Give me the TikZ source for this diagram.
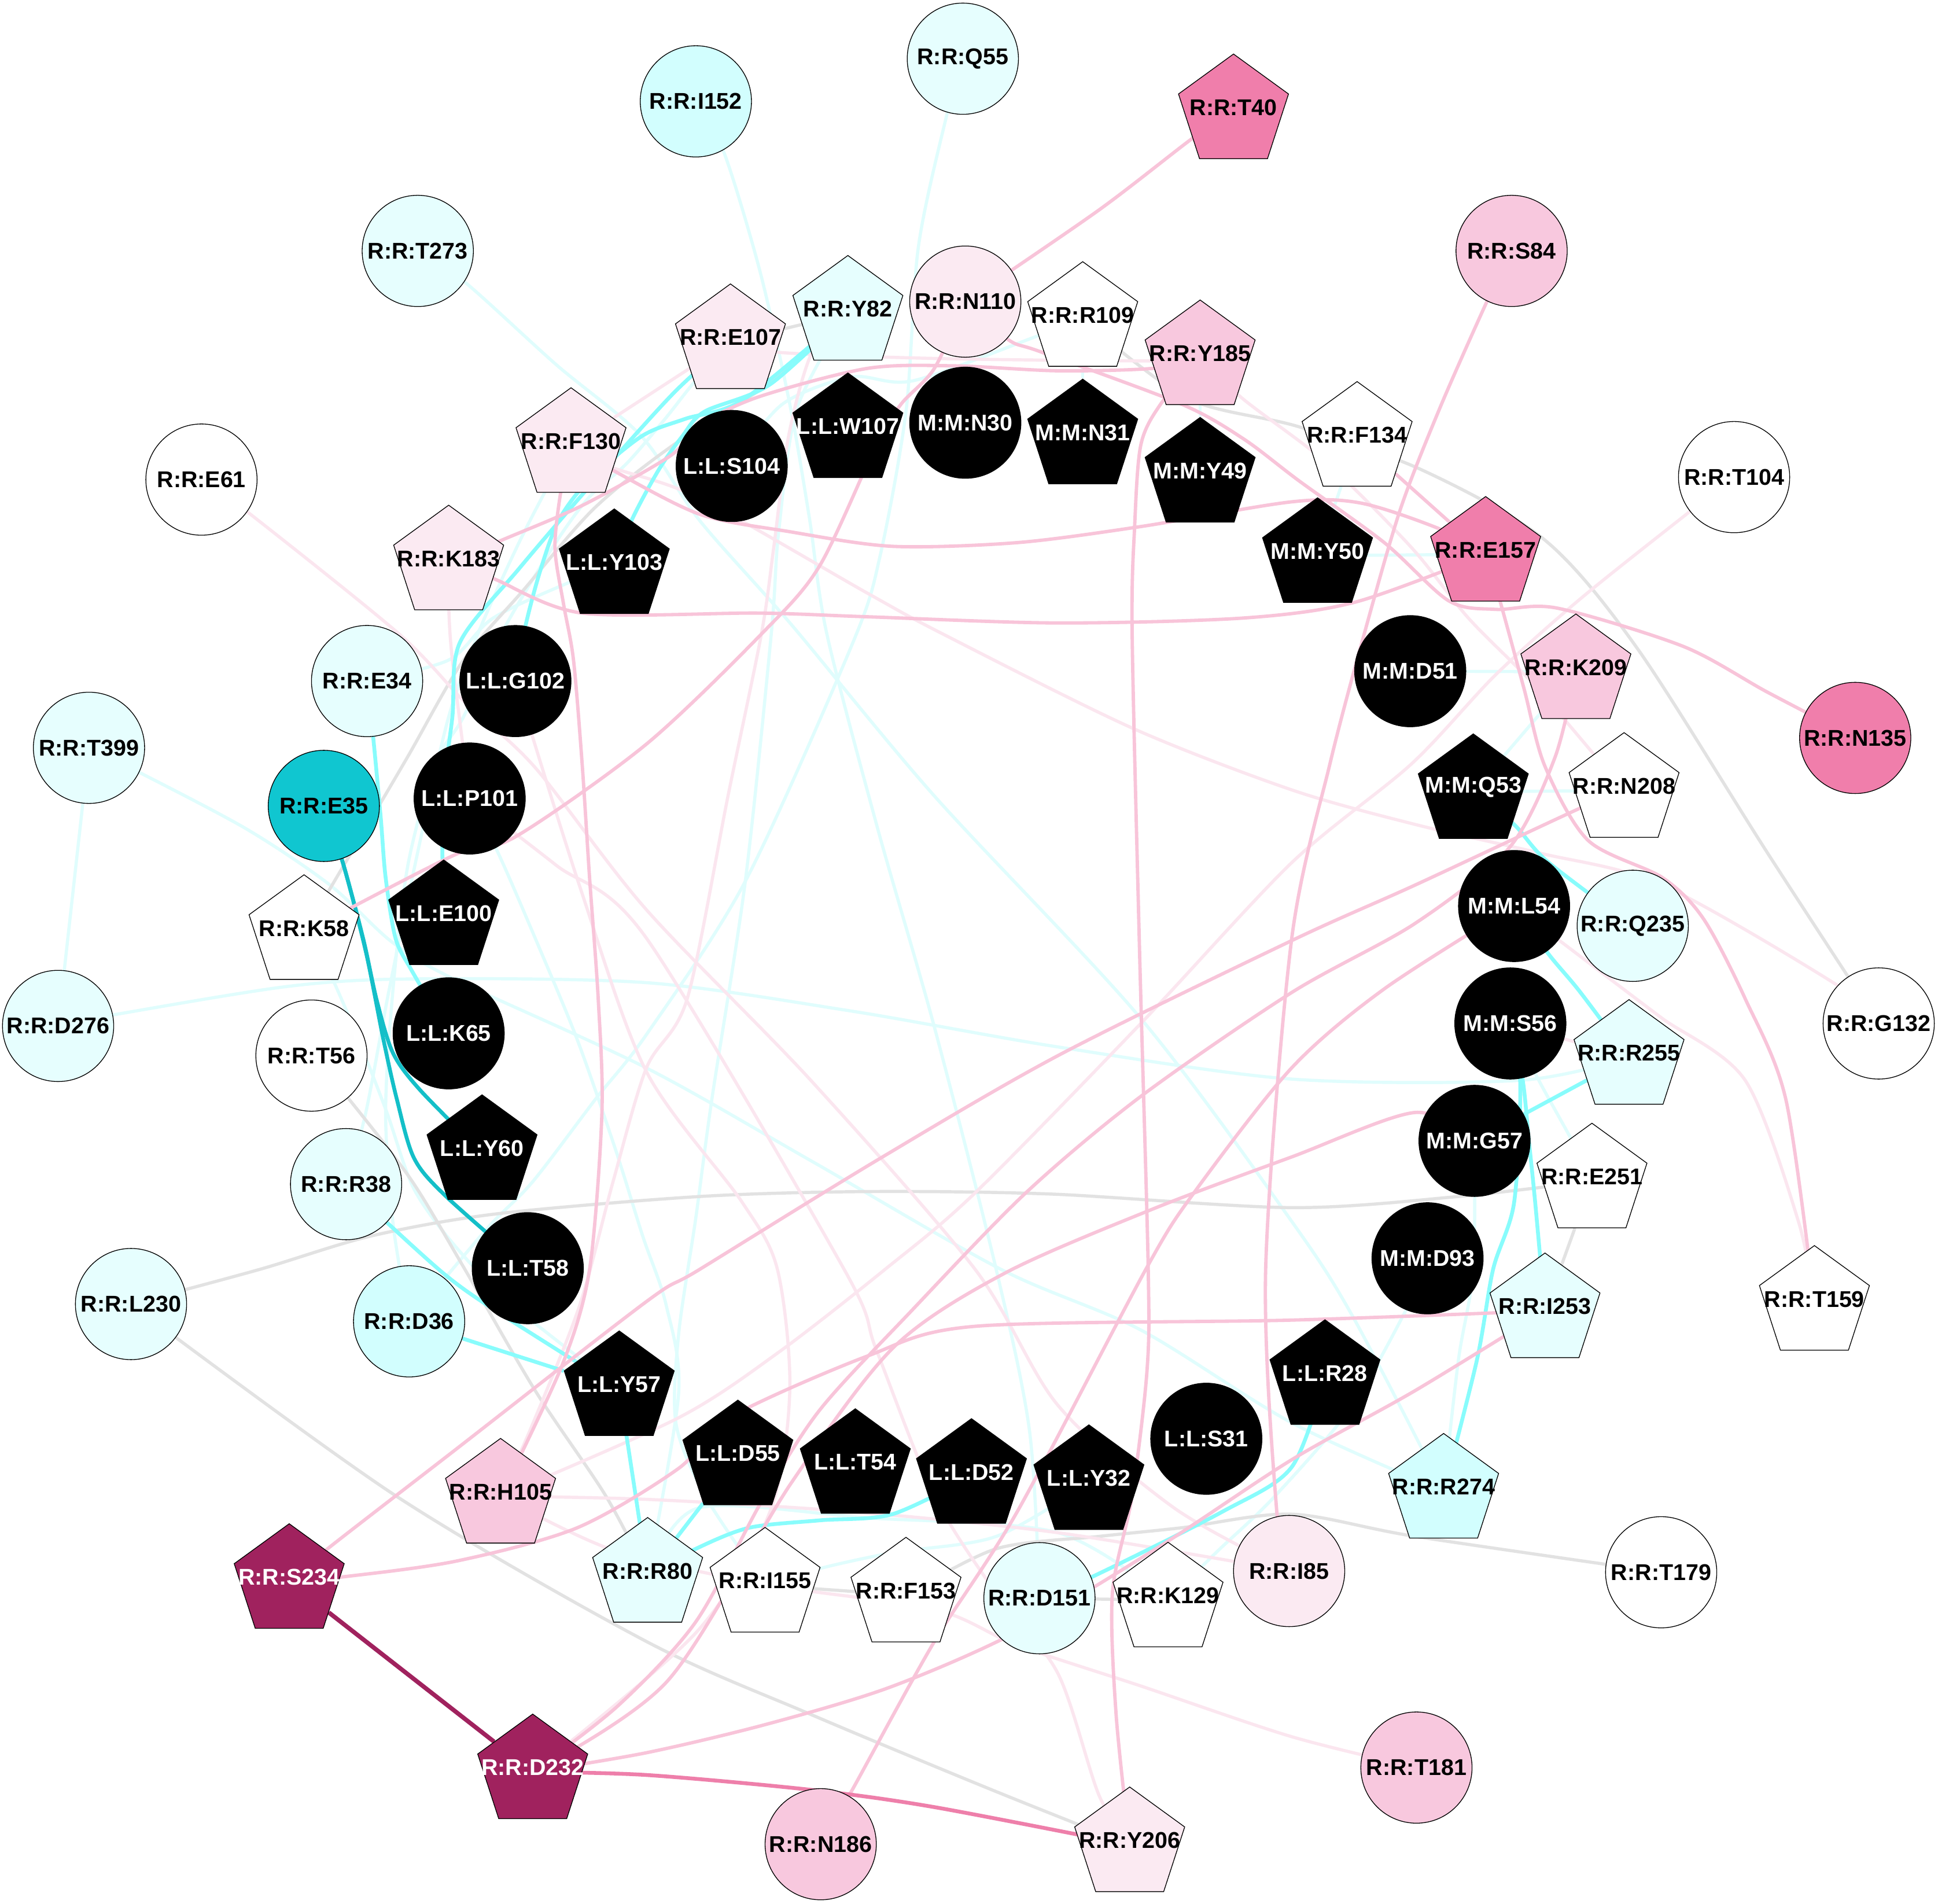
\documentclass[tikz,border=0pt]{standalone}
\usepackage{fontspec}
\setmainfont{Liberation Sans}
\usetikzlibrary{shapes.geometric}
\pgfdeclarelayer{bg}
\pgfdeclarelayer{edges}
\pgfsetlayers{bg,edges,main}
\definecolor{cyanL}{HTML}{E6FEFE}
\definecolor{cyanM}{HTML}{D2FEFE}
\definecolor{pinkL}{HTML}{FBEAF2}
\definecolor{pinkN}{HTML}{F8C8DE}
\definecolor{pinkD}{HTML}{F07EAB}
\definecolor{magC}{HTML}{A0225E}
\definecolor{tealC}{HTML}{10C6D0}
\definecolor{ePM}{HTML}{F8C4D9}
\definecolor{ePL}{HTML}{FBE6EF}
\definecolor{eCB}{HTML}{88FCFC}
\definecolor{eCL}{HTML}{E0FDFD}
\definecolor{eGR}{HTML}{E2E2E2}
\definecolor{eTE}{HTML}{14BFC8}
\definecolor{ePD}{HTML}{EE7FAA}
\tikzset{
  circ/.style={circle, draw=black, line width=0.35pt, minimum size=1.8cm, inner sep=0pt},
  pent/.style={regular polygon, regular polygon sides=5, draw=black, line width=0.35pt, minimum size=1.872cm, inner sep=0pt},
  lbl/.style={inner sep=0pt, font=\bfseries\fontsize{10.5}{12}\selectfont},
  gr/.style={draw=eGR, line width=1.45pt},
  te/.style={draw=eTE, line width=1.75pt},
  cb/.style={draw=eCB, line width=1.75pt},
  cl/.style={draw=eCL, line width=1.45pt},
  pm/.style={draw=ePM, line width=1.55pt},
  pl/.style={draw=ePL, line width=1.45pt},
  pd/.style={draw=ePD, line width=1.75pt},
  mg/.style={draw=magC, line width=2.0pt},
  sm/.style={smooth, tension=0.5}
}
\newcommand{\cn}[6]{\node[circ, fill=#4] (#1) at (#2,#3) {}; \node[lbl, text=#5] (#1t) at (#2,#3) {#6};}
\newcommand{\pn}[6]{\node[pent, fill=#4] (#1) at (#2,#3+3.5) {}; \node[lbl, text=#5] (#1t) at (#2,#3) {#6};}
\begin{document}
\begin{tikzpicture}[x=0.02cm, y=-0.02cm]
\begin{pgfonlayer}{bg}
\fill[white] (0,0) rectangle (1568,1540);
\end{pgfonlayer}
\useasboundingbox (0,0) rectangle (1568,1540);
% circles
\cn{Q55}{779}{47.5}{cyanL}{black}{R:R:Q55}
\cn{I152}{563}{82}{cyanM}{black}{R:R:I152}
\cn{T273}{338}{203}{cyanL}{black}{R:R:T273}
\cn{S84}{1223}{203}{pinkN}{black}{R:R:S84}
\cn{E61}{163}{388}{white}{black}{R:R:E61}
\cn{T104}{1403}{386}{white}{black}{R:R:T104}
\cn{T399}{72}{605}{cyanL}{black}{R:R:T399}
\cn{N135}{1501}{597}{pinkD}{black}{R:R:N135}
\cn{D276}{47}{830}{cyanL}{black}{R:R:D276}
\cn{G132}{1520}{828}{white}{black}{R:R:G132}
\cn{L230}{106}{1055}{cyanL}{black}{R:R:L230}
\cn{T179}{1344}{1272}{white}{black}{R:R:T179}
\cn{T181}{1146}{1430}{pinkN}{black}{R:R:T181}
\cn{N186}{664}{1492}{pinkN}{black}{R:R:N186}
\cn{N110}{781}{244}{pinkL}{black}{R:R:N110}
\cn{Q235}{1321}{749}{cyanL}{black}{R:R:Q235}
\cn{I85}{1043}{1271}{pinkL}{black}{R:R:I85}
\cn{D151}{841}{1293}{cyanL}{black}{R:R:D151}
\cn{D36}{331}{1069}{cyanM}{black}{R:R:D36}
\cn{R38}{280}{958}{cyanL}{black}{R:R:R38}
\cn{T56}{252}{854}{white}{black}{R:R:T56}
\cn{E35}{262}{652}{tealC}{black}{R:R:E35}
\cn{E34}{297}{551}{cyanL}{black}{R:R:E34}
\cn{N30}{781}{342}{black}{white}{M:M:N30}
\cn{S104}{592}{377}{black}{white}{L:L:S104}
\cn{G102}{417}{551}{black}{white}{L:L:G102}
\cn{P101}{380}{646}{black}{white}{L:L:P101}
\cn{K65}{363}{836}{black}{white}{L:L:K65}
\cn{T58}{427}{1026}{black}{white}{L:L:T58}
\cn{S31}{976}{1164}{black}{white}{L:L:S31}
\cn{D93}{1155}{1018}{black}{white}{M:M:D93}
\cn{G57}{1193}{923}{black}{white}{M:M:G57}
\cn{S56}{1222}{828}{black}{white}{M:M:S56}
\cn{L54}{1225}{733}{black}{white}{M:M:L54}
\cn{D51}{1141}{543}{black}{white}{M:M:D51}
% pentagons
\pn{T40}{998}{87}{pinkD}{black}{R:R:T40}
\pn{E107}{591}{273}{pinkL}{black}{R:R:E107}
\pn{Y82}{686}{250}{cyanL}{black}{R:R:Y82}
\pn{R109}{876}{255}{white}{black}{R:R:R109}
\pn{Y185}{971}{286}{pinkN}{black}{R:R:Y185}
\pn{F134}{1098}{352}{white}{black}{R:R:F134}
\pn{E157}{1202}{445}{pinkD}{black}{R:R:E157}
\pn{K209}{1275}{540}{pinkN}{black}{R:R:K209}
\pn{N208}{1314}{636}{white}{black}{R:R:N208}
\pn{R255}{1318}{852}{cyanL}{black}{R:R:R255}
\pn{E251}{1288}{952}{white}{black}{R:R:E251}
\pn{I253}{1250}{1057}{cyanL}{black}{R:R:I253}
\pn{T159}{1468}{1051}{white}{black}{R:R:T159}
\pn{R274}{1168}{1203}{cyanM}{black}{R:R:R274}
\pn{K129}{945}{1291}{white}{black}{R:R:K129}
\pn{F153}{733}{1287}{white}{black}{R:R:F153}
\pn{I155}{619}{1279}{white}{black}{R:R:I155}
\pn{R80}{524}{1271}{cyanL}{black}{R:R:R80}
\pn{H105}{405}{1207}{pinkN}{black}{R:R:H105}
\pn{S234}{234}{1276}{magC}{white}{R:R:S234}
\pn{D232}{431}{1430}{magC}{white}{R:R:D232}
\pn{Y206}{914}{1489}{pinkL}{black}{R:R:Y206}
\pn{K58}{246}{751}{white}{black}{R:R:K58}
\pn{K183}{363}{452}{pinkL}{black}{R:R:K183}
\pn{F130}{462}{357}{pinkL}{black}{R:R:F130}
\pn{W107}{686}{345}{black}{white}{L:L:W107}
\pn{N31}{876}{350}{black}{white}{M:M:N31}
\pn{Y49}{971}{381}{black}{white}{M:M:Y49}
\pn{Y50}{1066}{446}{black}{white}{M:M:Y50}
\pn{Q53}{1192}{637}{black}{white}{M:M:Q53}
\pn{R28}{1072}{1111}{black}{white}{L:L:R28}
\pn{Y32}{881}{1196}{black}{white}{L:L:Y32}
\pn{D52}{786}{1191}{black}{white}{L:L:D52}
\pn{T54}{692}{1183}{black}{white}{L:L:T54}
\pn{D55}{597}{1176}{black}{white}{L:L:D55}
\pn{Y57}{501}{1120}{black}{white}{L:L:Y57}
\pn{Y60}{390}{929}{black}{white}{L:L:Y60}
\pn{E100}{359}{739}{black}{white}{L:L:E100}
\pn{Y103}{497}{455}{black}{white}{L:L:Y103}
% edges
\begin{pgfonlayer}{edges}
% light cyan
\draw[cl] plot[sm] coordinates {(Q55) (766,93) (743,200) (733,333) (712,450) (690,520) (603,713) (523,837) (482,889) (431,956) (394,994) (D36)};
\draw[cl] plot[sm] coordinates {(I152) (586,124) (615,220) (639,327) (655,420) (669,513) (710,670) (756,831) (806,1027) (833,1158) (D151)};
\draw[cl] plot[sm] coordinates {(T273) (377,229) (450,295) (519,353) (566,421) (640,505) (756,644) (923,824) (1045,988) (1095,1066) (R274)};
\draw[cl] plot[sm] coordinates {(T399) (113,625) (200,671) (267,716) (317,762) (367,792) (523,864) (656,939) (810,1027) (923,1076) (1045,1151) (R274)};
\draw[cl] (T399) -- (D276);
\draw[cl] plot[sm] coordinates {(D276) (92,821) (233,798) (333,792) (523,795) (689,818) (856,847) (1045,873) (1230,874) (R255)};
\draw[cl] plot[sm] coordinates {(Y103) (461,471) (399,500) (363,534) (E34)};
\draw[cl] plot[sm] coordinates {(S104) (633,327) (689,305) (739,308) (839,272) (R109)};
\draw[cl] (R109) -- (N31);
\draw[cl] (Y185) -- (Y49);
\draw[cl] (Y50) -- (E157);
\draw[cl] (Y50) -- (F134);
\draw[cl] (D51) -- (K209);
\draw[cl] (K209) -- (Q53);
\draw[cl] (Q53) -- (N208);
\draw[cl] plot[sm] coordinates {(D93) (1138,1059) (1092,1140) (1030,1212) (985,1255) (K129)};
\draw[cl] plot[sm] coordinates {(K58) (267,788) (290,841) (313,900) (335,962) (369,1009) (415,1056) (Y57)};
\draw[cl] plot[sm] coordinates {(P101) (403,690) (433,759) (467,841) (498,930) (520,1000) (539,1056) (549,1128) (R80)};
\draw[cl] plot[sm] coordinates {(Y82) (645,330) (630,430) (624,513) (603,713) (576,889) (563,985) (549,1080) (547,1152) (571,1211) (I155)};
\draw[cl] plot[sm] coordinates {(F130) (442,396) (418,443) (387,512) (363,580) (340,680) (315,800) (296,900) (R38)};
\draw[cl] plot[sm] coordinates {(E107) (561,310) (538,339) (507,375) (476,403) (447,443) (406,512) (375,580) (352,618) (330,700) (318,800) (312,900) (318,990) (D36)};
\draw[cl] plot[sm] coordinates {(R80) (565,1220) (702,1228) (856,1240) (K129)};
\draw[cl] plot[sm] coordinates {(I155) (663,1269) (723,1256) (806,1243) (Y32)};
\draw[cl] plot[sm] coordinates {(G57) (1192,1027) (1180,1100) (R274)};
\draw[cl] plot[sm] coordinates {(S56) (1245,874) (1272,923) (E251)};
% gray
\draw[gr] plot[sm] coordinates {(R109) (960,322) (1050,345) (1150,380) (1250,437) (1325,525) (1430,690) (G132)};
\draw[gr] plot[sm] coordinates {(L230) (210,1027) (300,1000) (402,982) (566,968) (702,964) (850,966) (1045,977) (1180,968) (E251)};
\draw[gr] plot[sm] coordinates {(L230) (320,1210) (523,1328) (656,1387) (800,1447) (Y206)};
\draw[gr] plot[sm] coordinates {(Y82) (657,282) (614,316) (542,362) (480,412) (423,478) (375,534) (330,612) (290,680) (K58)};
\draw[gr] (E107) -- (Y82);
\draw[gr] plot[sm] coordinates {(T56) (283,890) (333,955) (375,1025) (433,1125) (490,1210) (R80)};
\draw[gr] (I155) -- (F153);
\draw[gr] plot[sm] coordinates {(F153) (806,1253) (889,1243) (956,1236) (1045,1225) (1145,1243) (T179)};
\draw[gr] (D151) -- (K129);
\draw[gr] (E251) -- (I253);
% light pink
\draw[pl] plot[sm] coordinates {(E107) (629,285) (756,290) (933,292) (Y185)};
\draw[pl] (E107) -- (F130);
\draw[pl] plot[sm] coordinates {(F130) (495,378) (566,403) (702,480) (763,513) (916,589) (1045,639) (1145,667) (1245,690) (1345,716) (1488,798) (G132)};
\draw[pl] plot[sm] coordinates {(T104) (1367,414) (1278,485) (1210,546) (1142,618) (1045,698) (923,828) (789,965) (716,1027) (630,1094) (549,1147) (H105)};
\draw[pl] plot[sm] coordinates {(Y185) (1006,323) (1074,375) (1142,443) (1188,500) (1244,557) (N208)};
\draw[pl] plot[sm] coordinates {(L54) (1300,790) (1345,824) (1412,874) (1455,988) (T159)};
\draw[pl] plot[sm] coordinates {(E61) (200,414) (323,513) (377,569) (433,621) (523,736) (656,874) (789,1027) (856,1137) (950,1220) (I85)};
\draw[pl] plot[sm] coordinates {(K183) (363,489) (366,534) (P101)};
\draw[pl] plot[sm] coordinates {(P101) (450,700) (523,759) (683,1027) (709,1092) (756,1210) (806,1289) (856,1354) (889,1452) (Y206)};
\draw[pl] plot[sm] coordinates {(Y82) (657,285) (638,353) (626,443) (616,513) (589,644) (556,808) (523,864) (496,956) (469,1056) (431,1152) (H105)};
\draw[pl] plot[sm] coordinates {(H105) (523,1213) (689,1223) (856,1240) (I85)};
\draw[pl] plot[sm] coordinates {(H105) (496,1254) (620,1282) (756,1302) (823,1331) (923,1364) (1045,1405) (T181)};
\draw[pl] (S56) -- (R255);
\draw[pl] plot[sm] coordinates {(D232) (563,1321) (623,1223) (639,1125) (629,1027) (600,972) (523,867) (470,720) (G102)};
% bright cyan
\draw[cb] (D36) -- (Y57);
\draw[cb] plot[sm] coordinates {(R38) (313,989) (361,1032) (402,1061) (Y57)};
\draw[cb] plot[sm] coordinates {(Y57) (512,1195) (R80)};
\draw[cb] (R80) -- (D55);
\draw[cb] plot[sm] coordinates {(R80) (563,1253) (606,1236) (663,1230) (722,1225) (D52)};
\draw[cb] plot[sm] coordinates {(Y103) (511,421) (533,380) (552,353) (570,333) (623,311) (Y82)};
\draw[cb] plot[sm] coordinates {(G102) (425,507) (437,462) (452,421) (476,389) (519,353) (554,339) (602,323) (Y82)};
\draw[cb] plot[sm] coordinates {(E34) (302,597) (308,661) (312,710) (320,759) (333,785) (K65)};
\draw[cb] plot[sm] coordinates {(E107) (545,318) (480,390) (420,460) (372,520) (366,580) (358,650) (E100)};
\draw[cb] plot[sm] coordinates {(Q53) (1225,667) (1252,697) (Q235)};
\draw[cb] plot[sm] coordinates {(L54) (1253,772) (1278,802) (R255)};
\draw[cb] (G57) -- (R255);
\draw[cb] plot[sm] coordinates {(S56) (1232,874) (1237,923) (1242,972) (I253)};
\draw[cb] plot[sm] coordinates {(S56) (1230,877) (1225,973) (1208,1027) (1195,1100) (R274)};
\draw[cb] plot[sm] coordinates {(D151) (883,1276) (989,1223) (1045,1187) (R28)};
% teal
\draw[te] plot[sm] coordinates {(E35) (278,700) (294,760) (305,810) (318,852) (340,882) (Y60)};
\draw[te] plot[sm] coordinates {(E35) (278,700) (296,770) (310,840) (321,889) (335,937) (361,968) (T58)};
% medium pink
\draw[pm] plot[sm] coordinates {(T40) (966,111) (889,170) (N110)};
\draw[pm] plot[sm] coordinates {(S84) (1203,244) (1165,330) (1133,412) (1104,512) (1076,618) (1045,760) (1024,1027) (1033,1223) (I85)};
\draw[pm] plot[sm] coordinates {(N110) (816,275) (843,285) (956,327) (1006,355) (1051,389) (1120,439) (1172,486) (1210,493) (1260,492) (1362,523) (1430,560) (N135)};
\draw[pm] plot[sm] coordinates {(F130) (495,380) (566,416) (638,430) (722,442) (823,439) (923,426) (1045,406) (1101,407) (1165,428) (E157)};
\draw[pm] plot[sm] coordinates {(K183) (399,468) (471,496) (614,496) (702,499) (856,504) (1006,500) (1097,487) (E157)};
\draw[pm] plot[sm] coordinates {(K183) (406,437) (471,409) (542,369) (566,344) (614,321) (702,298) (773,296) (856,300) (933,298) (Y185)};
\draw[pm] plot[sm] coordinates {(N110) (756,298) (729,327) (709,360) (663,458) (616,513) (523,602) (417,677) (367,692) (K58)};
\draw[pm] plot[sm] coordinates {(Y185) (939,327) (923,360) (918,426) (916,513) (922,770) (929,1027) (928,1109) (916,1210) (900,1289) (903,1387) (Y206)};
\draw[pm] plot[sm] coordinates {(D232) (523,1418) (620,1395) (720,1365) (823,1320) (940,1250) (1045,1181) (1145,1125) (I253)};
\draw[pm] plot[sm] coordinates {(D232) (500,1380) (563,1312) (616,1215) (663,1141) (736,1062) (830,965) (923,887) (1045,803) (1145,747) (1221,686) (1258,613) (K209)};
\draw[pm] plot[sm] coordinates {(D232) (540,1360) (640,1200) (723,1090) (813,1030) (933,978) (1045,936) (1145,900) (G57)};
\draw[pm] plot[sm] coordinates {(S234) (265,1253) (367,1174) (523,1053) (566,1027) (709,939) (856,854) (1045,761) (1145,716) (1278,654) (N208)};
\draw[pm] plot[sm] coordinates {(S234) (275,1276) (369,1263) (467,1236) (549,1188) (590,1147) (702,1097) (789,1073) (1045,1068) (I253)};
\draw[pm] plot[sm] coordinates {(N186) (689,1449) (756,1328) (823,1223) (927,1027) (966,965) (1045,864) (1120,800) (L54)};
\draw[pm] plot[sm] coordinates {(E157) (1213,484) (1233,557) (1250,620) (1285,680) (1345,710) (1378,743) (1412,808) (1445,890) (T159)};
\draw[pm] (F134) -- (E157);
\draw[pm] plot[sm] coordinates {(F130) (454,396) (449,443) (456,489) (464,534) (471,618) (477,710) (484,808) (487,900) (477,1027) (455,1104) (H105)};
% strong
\draw[pd] plot[sm] coordinates {(D232) (523,1436) (656,1448) (756,1462) (Y206)};
\draw[mg] (S234) -- (D232);
\end{pgfonlayer}
\end{tikzpicture}
\end{document}
